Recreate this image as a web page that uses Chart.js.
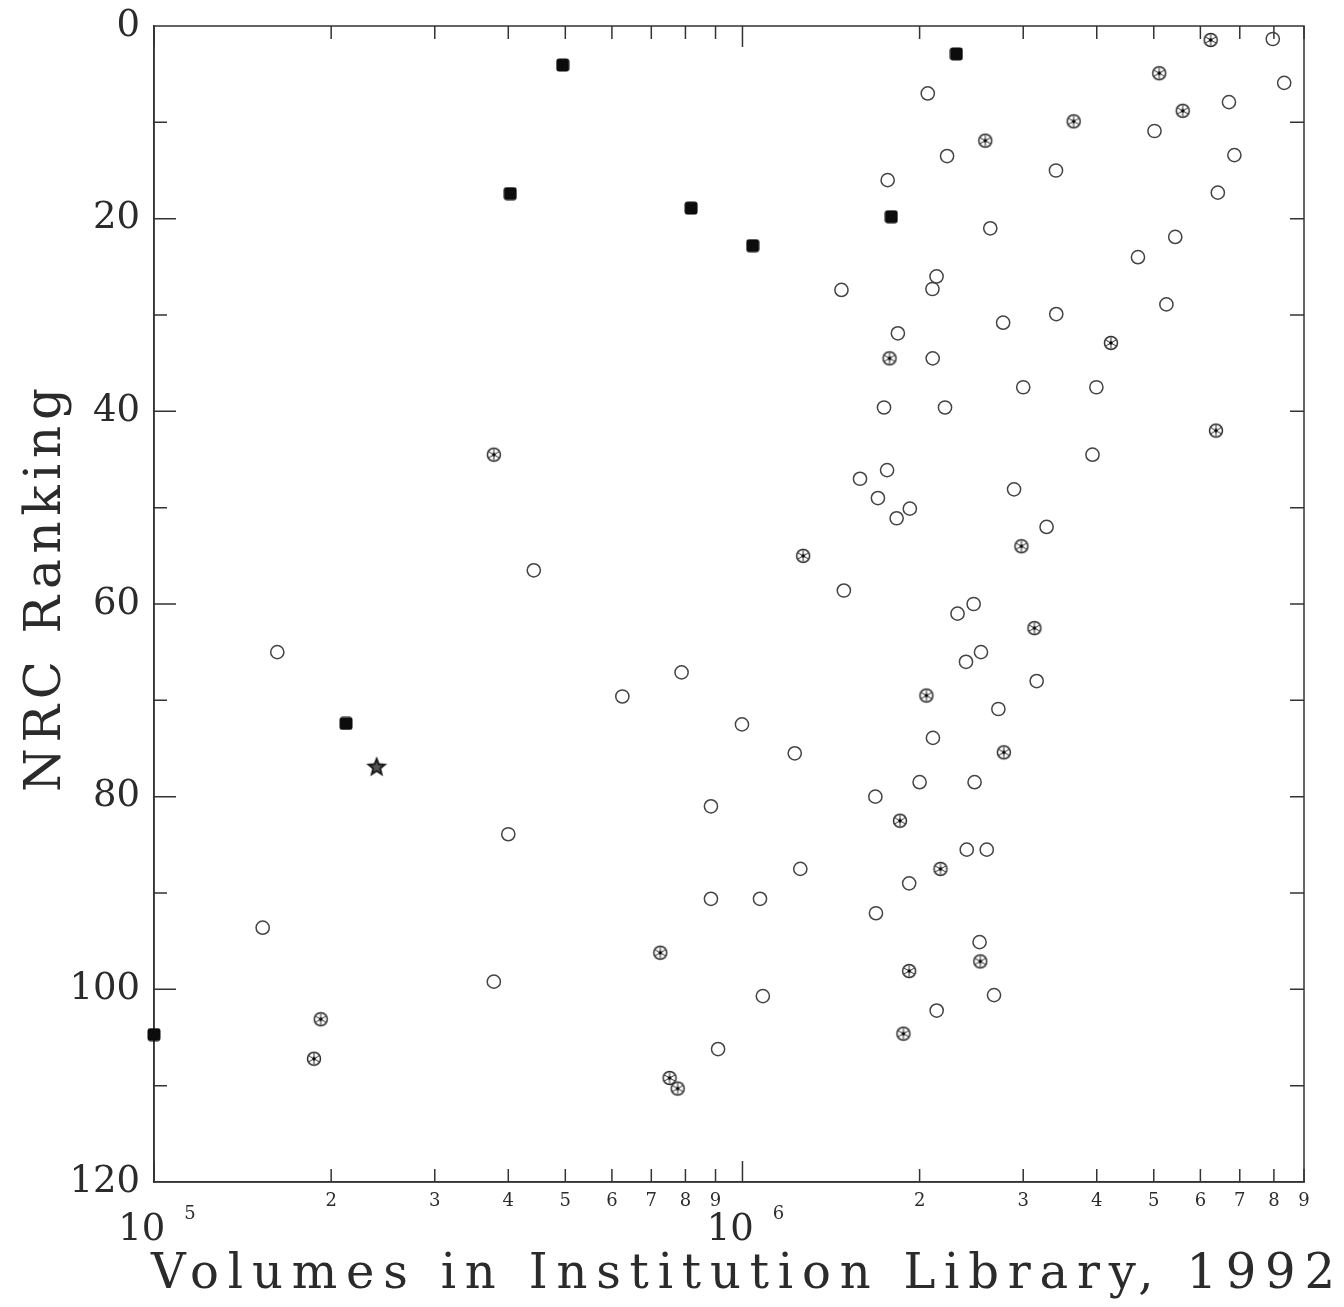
<!DOCTYPE html>
<html>
<head>
<meta charset="utf-8">
<script src="https://cdn.jsdelivr.net/npm/chart.js@4.4.1/dist/chart.umd.min.js"></script>
<style>
html,body{margin:0;padding:0;background:#ffffff;}
#wrap{position:relative;width:1344px;height:1307px;}
</style>
</head>
<body>
<div id="wrap"><canvas id="c" width="1344" height="1307"></canvas></div>
<script>
// ---------------- data ----------------
const openVolumes = [162000,153000,442000,400000,378000,625000,788000,884000,884000,909000,
  998000,1071000,1083000,1227000,1254000,1473000,1487000,1584000,1699000,1765000,
  1740000,1761000,1837000,1828000,1925000,1682000,1686000,1920000,2065000,2227000,
  2137000,2103000,2105000,2209000,2000000,2107000,2138000,2320000,2471000,2398000,
  2543000,2480000,2405000,2601000,2529000,2637000,2773000,2722000,2676000,2894000,
  3000000,3162000,3287000,3410000,3414000,3934000,3994000,4700000,5014000,5253000,
  5438000,6424000,6710000,6854000,7965000,8329000];
const openRank = [65.0,93.6,56.5,83.9,99.2,69.6,67.1,81.0,90.6,106.2,
  72.5,90.6,100.7,75.5,87.5,27.4,58.6,47.0,49.0,16.0,
  39.6,46.1,31.9,51.1,50.1,80.0,92.1,89.0,7.0,13.5,
  26.0,27.3,34.5,39.6,78.5,73.9,102.2,61.0,60.0,66.0,
  65.0,78.5,85.5,85.5,95.1,21.0,30.8,70.9,100.6,48.1,
  37.5,68.0,52.0,15.0,29.9,44.5,37.5,24.0,10.9,28.9,
  21.9,17.3,7.9,13.4,1.35,5.9];

const starredVolumes = [378000,192000,187000,725000,752000,776000,1268000,1778000,1852000,2170000,
  1920000,1877000,2054000,2586000,2781000,2536000,2979000,3134000,3654000,4228000,
  5107000,5600000,6247000,6377000];
const starredRank = [44.5,103.1,107.2,96.2,109.2,110.3,55.0,34.5,82.5,87.5,
  98.1,104.6,69.5,11.9,75.4,97.1,54.0,62.5,9.9,32.9,
  4.9,8.8,1.45,42.0];

const filledVolumes = [100000,495000,403000,818000,1041000,1790000,2309000,212000];
const filledRank = [104.7,4.05,17.4,18.9,22.8,19.8,2.9,72.4];

const starVolumes = [239000];
const starRank = [76.9];

// ---------------- axes ----------------
const xTickValues = [1e5,2e5,3e5,4e5,5e5,6e5,7e5,8e5,9e5,1e6,2e6,3e6,4e6,5e6,6e6,7e6,8e6,9e6];
const xTickLabels = ['','2','3','4','5','6','7','8','9','','2','3','4','5','6','7','8','9'];
const xDecades = [1e5,1e6];
const xDecadeExponents = ['5','6'];
const yTickValues = [0,20,40,60,80,100,120];
const yTickLabels = ['0','20','40','60','80','100','120'];
const yMarkValues = [10,20,30,40,50,60,70,80,90,100,110];
const xTitle = 'Volumes in Institution Library, 1992';
const yTitle = 'NRC Ranking';

// ---------------- marker images ----------------
function circledAsterisk(){
  const c=document.createElement('canvas'); c.width=18; c.height=18;
  const g=c.getContext('2d');
  g.strokeStyle='#2e2e2e'; g.lineWidth=1.5;
  g.beginPath(); g.arc(9,9,6.5,0,Math.PI*2); g.stroke();
  g.lineWidth=1.0; g.strokeStyle='#2a2a2a';
  g.beginPath();
  for(let k=0;k<3;k++){
    const a=Math.PI/2+k*Math.PI/3;
    g.moveTo(9+5.7*Math.cos(a),9+5.7*Math.sin(a));
    g.lineTo(9-5.7*Math.cos(a),9-5.7*Math.sin(a));
  }
  g.stroke();
  g.fillStyle='#000'; g.beginPath(); g.arc(9,9,1.7,0,Math.PI*2); g.fill();
  return c;
}
function filledSquare(){
  const c=document.createElement('canvas'); c.width=14; c.height=14;
  const g=c.getContext('2d');
  g.fillStyle='#0c0c0c';
  g.beginPath();
  if(g.roundRect){ g.roundRect(0.5,0.5,13,13,3); } else { g.rect(0.5,0.5,13,13); }
  g.fill();
  return c;
}
function filledStar(){
  const c=document.createElement('canvas'); c.width=24; c.height=24;
  const g=c.getContext('2d');
  const pts=(R,r)=>{ g.beginPath(); for(let k=0;k<10;k++){ const rad=k%2?r:R; const a=-Math.PI/2+k*Math.PI/5; const px=12+rad*Math.cos(a), py=12.5+rad*Math.sin(a); k?g.lineTo(px,py):g.moveTo(px,py);} g.closePath(); };
  pts(11,4.8); g.fillStyle='#1a1a1a'; g.fill();
  pts(5.5,2.6); g.fillStyle='#555'; g.fill();
  return c;
}

const toPts=(xs,ys)=>xs.map((v,i)=>({x:v,y:ys[i]}));

// ---------------- plugins ----------------
const frame = {
  id:'frame',
  beforeDatasetsDraw(chart){
    const {ctx, chartArea:a, scales:{x,y}} = chart;
    ctx.save();
    ctx.strokeStyle='#333'; ctx.lineWidth=1.5;
    ctx.strokeRect(a.left,a.top,a.right-a.left,a.bottom-a.top);
    ctx.beginPath();
    xTickValues.forEach(v=>{
      const px=x.getPixelForValue(v);
      const len = xDecades.includes(v)?21:13;
      ctx.moveTo(px,a.bottom); ctx.lineTo(px,a.bottom-len);
      ctx.moveTo(px,a.top); ctx.lineTo(px,a.top+len);
    });
    yMarkValues.forEach(v=>{
      const py=y.getPixelForValue(v);
      const len = (v%20===0)?22:13;
      ctx.moveTo(a.left,py); ctx.lineTo(a.left+len,py);
      ctx.moveTo(a.right,py); ctx.lineTo(a.right-14,py);
    });
    ctx.stroke();
    ctx.restore();
  },
  afterDraw(chart){
    const {ctx, scales:{x}} = chart;
    ctx.save();
    ctx.fillStyle='#2b2b2b';
    // decade labels 10^n
    xDecades.forEach((v,i)=>{
      const px=x.getPixelForValue(v);
      ctx.font='37px "DejaVu Serif"';
      const w10=ctx.measureText('10').width;
      ctx.font='18px "DejaVu Serif"';
      const we=ctx.measureText(xDecadeExponents[i]).width;
      const gap=19;
      const left=px-(w10+gap+we)/2+3;
      ctx.textAlign='left'; ctx.textBaseline='alphabetic';
      ctx.font='37px "DejaVu Serif"';
      ctx.fillText('10',left,1240);
      ctx.font='18px "DejaVu Serif"';
      ctx.fillText(xDecadeExponents[i],left+w10+gap,1219);
    });
    // titles with wide letter spacing
    const spaced=(text,font,width)=>{
      ctx.font=font;
      if('letterSpacing' in ctx){ ctx.letterSpacing='0px'; }
      const w=ctx.measureText(text).width;
      const ls=(width-w)/(text.length-1);
      if('letterSpacing' in ctx){ ctx.letterSpacing=ls+'px'; ctx.fillText(text,0,0); ctx.letterSpacing='0px'; }
      else { let cx=0; for(const ch of text){ ctx.fillText(ch,cx,0); cx+=ctx.measureText(ch).width+ls; } }
    };
    ctx.textAlign='left'; ctx.textBaseline='alphabetic';
    ctx.save(); ctx.translate(151,1288); spaced(xTitle,'48px "DejaVu Serif"',1184); ctx.restore();
    ctx.save(); ctx.translate(60,792); ctx.rotate(-Math.PI/2); spaced(yTitle,'50px "DejaVu Serif"',404); ctx.restore();
    ctx.restore();
  }
};

// ---------------- chart ----------------
new Chart(document.getElementById('c'), {
  type:'scatter',
  data:{
    datasets:[
      {label:'open', data:toPts(openVolumes,openRank), pointStyle:'circle', radius:6.6, borderWidth:1.5, borderColor:'#444', backgroundColor:'rgba(0,0,0,0)', clip:false},
      {label:'circled asterisk', data:toPts(starredVolumes,starredRank), pointStyle:circledAsterisk(), radius:7, clip:false},
      {label:'filled', data:toPts(filledVolumes,filledRank), pointStyle:filledSquare(), radius:7, clip:false},
      {label:'star', data:toPts(starVolumes,starRank), pointStyle:filledStar(), radius:10, clip:false}
    ]
  },
  options:{
    responsive:false, animation:false, devicePixelRatio:1,
    layout:{padding:{top:26,right:40,left:0,bottom:0}, autoPadding:false},
    plugins:{legend:{display:false}, tooltip:{enabled:false}},
    scales:{
      x:{
        type:'logarithmic', position:'bottom', min:1e5, max:9e6,
        afterBuildTicks:s=>{ s.ticks=xTickValues.map(v=>({value:v})); },
        afterFit:s=>{ s.height=125; s.paddingLeft=0; s.paddingRight=0; },
        grid:{display:false, drawTicks:false},
        border:{display:true, color:'#333', width:1.5},
        ticks:{autoSkip:false, maxRotation:0, minRotation:0, padding:9, color:'#2b2b2b',
          font:{family:'DejaVu Serif', size:18}, callback:(v,i)=>xTickLabels[i]}
      },
      y:{
        type:'linear', reverse:true, min:0, max:120,
        afterBuildTicks:s=>{ s.ticks=yTickValues.map(v=>({value:v})); },
        afterFit:s=>{ s.width=154; s.paddingTop=0; s.paddingBottom=0; },
        grid:{display:false, drawTicks:false},
        border:{display:true, color:'#333', width:1.5},
        ticks:{padding:14, color:'#2b2b2b', font:{family:'DejaVu Serif', size:37}, callback:(v,i)=>yTickLabels[i]}
      }
    }
  },
  plugins:[frame]
});
</script>
</body>
</html>
